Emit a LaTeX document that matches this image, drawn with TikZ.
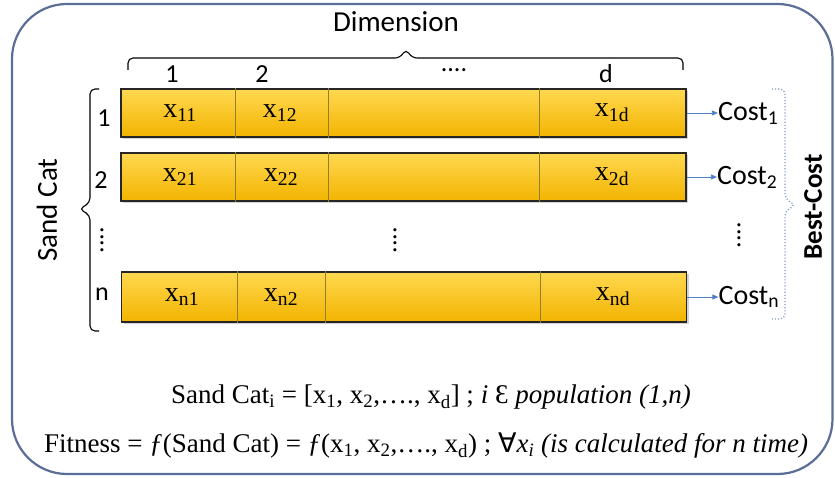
\documentclass[tikz,border=0pt]{standalone}
\usepackage{fontspec}
\setmainfont{Liberation Serif}
\setsansfont{Carlito}
\newfontfamily\symfont{DejaVu Sans}
\usepackage{xcolor}
\usetikzlibrary{arrows.meta,positioning,shadows,calc}
\definecolor{frameblue}{RGB}{90,110,152}
\definecolor{goldtop}{RGB}{255,216,80}
\definecolor{goldbot}{RGB}{242,180,0}
\definecolor{cellline}{RGB}{150,125,40}
\definecolor{arrowblue}{RGB}{80,125,200}
\definecolor{dotblue}{RGB}{130,152,192}
\newcommand{\fsz}[1]{\fontsize{#1}{#1}\selectfont}

\begin{document}
\begin{tikzpicture}[x=1pt,y=-1pt,
      font=\sffamily,
      frame/.style={draw=frameblue,line width=2.2pt,rounded corners=55pt},
      catrow/.style={draw=black!85,line width=1.8pt,top color=goldtop,bottom color=goldbot,
                     minimum width=565pt,minimum height=48pt,inner sep=0pt,
                     drop shadow={shadow xshift=2pt,shadow yshift=-2pt,opacity=0.35}},
      split/.style={draw=cellline,line width=0.5pt},
      cell/.style={font=\rmfamily\fsz{28}},
      lab/.style={font=\sffamily\fsz{26}},
      brc/.style={line width=1.1pt,rounded corners=5pt},
      cost/.style={font=\sffamily\fsz{28},inner sep=0pt},
      ar/.style={-{Triangle[length=6pt,width=5pt]},line width=0.8pt,color=arrowblue},
      formula/.style={font=\rmfamily\fsz{27}},
    ]
    \useasboundingbox (0,0) rectangle (835,478);
    \draw[frame] (12,4) rectangle (832.5,474);

    % header
    \node[font=\sffamily\fsz{29}] (dimension) at (396,22) {Dimension};
    \draw[brc] (128,70) -- (128,58) -- (400,58) -- (406,49) -- (412,58) -- (683,58) -- (683,70);
    \node[lab] (col1) at (172,74) {1};
    \node[lab] (col2) at (262,74) {2};
    \node[lab] (coldots) at (454,70) {....};
    \node[lab] (cold) at (606,74) {d};

    % sand cat rows
    \node[catrow] (row1) at (403.5,113) {};
    \node[catrow] (row2) at (403.5,177) {};
    \node[catrow,minimum height=50pt] (rown) at (404,297) {};
    \draw[split] (235,0 |- row1.north) -- (235,0 |- row1.south)
                 (328,0 |- row1.north) -- (328,0 |- row1.south)
                 (539,0 |- row1.north) -- (539,0 |- row1.south);
    \draw[split] (235,0 |- row2.north) -- (235,0 |- row2.south)
                 (328,0 |- row2.north) -- (328,0 |- row2.south)
                 (539,0 |- row2.north) -- (539,0 |- row2.south);
    \draw[split] (237,0 |- rown.north) -- (237,0 |- rown.south)
                 (325,0 |- rown.north) -- (325,0 |- rown.south)
                 (540,0 |- rown.north) -- (540,0 |- rown.south);

    \node[cell] (x11) at (180,113) {x\textsubscript{11}};
    \node[cell] (x12) at (280,113) {x\textsubscript{12}};
    \node[cell] (x1d) at (612,113) {x\textsubscript{1d}};
    \node[cell] (x21) at (180,177) {x\textsubscript{21}};
    \node[cell] (x22) at (281,177) {x\textsubscript{22}};
    \node[cell] (x2d) at (612,177) {x\textsubscript{2d}};
    \node[cell] (xn1) at (182,297) {x\textsubscript{n1}};
    \node[cell] (xn2) at (281,297) {x\textsubscript{n2}};
    \node[cell] (xnd) at (613,297) {x\textsubscript{nd}};

    % row labels
    \draw[brc] (99,89) -- (90,89) -- (90,203) -- (79,209) -- (90,215) -- (90,331) -- (99,331);
    \node[rotate=90,font=\sffamily\fsz{29}] (sandcat) at (47,210) {Sand Cat};
    \node[lab] (lab1) at (104,118) {1};
    \node[lab] (lab2) at (101,180) {2};
    \node[lab,rotate=90] (labdots) at (102,240) {....};
    \node[lab] (labn) at (102,294) {n};
    \node[lab,rotate=90] (middots) at (395,240) {....};

    % costs
    \node[cost,right=31pt of row1,anchor=west] (cost1) {Cost\textsubscript{1}};
    \node[cost,right=30pt of row2,anchor=west] (cost2) {Cost\textsubscript{2}};
    \node[cost,right=31pt of rown,anchor=west] (costn) {Cost\textsubscript{n}};
    \node[lab,rotate=90] (costdots) at (739,235) {....};
    \draw[ar] (row1.east) -- (cost1.west);
    \draw[ar] (row2.east) -- (cost2.west);
    \draw[ar] (rown.east) -- (costn.west);
    \draw[brc,dotted,draw=dotblue,line width=1.3pt]
      (772,89) -- (785,89) -- (785,199) -- (796,205) -- (785,211) -- (785,319) -- (772,319);
    \node[rotate=90,font=\sffamily\bfseries\fsz{27}] (bestcost) at (813,207) {Best-Cost};

    % formulas
    \node[formula] (member) at (431,397)
      {Sand Cat\textsubscript{i} = [x\textsubscript{1}, x\textsubscript{2},…., x\textsubscript{d}] ; \textit{i} Ɛ \textit{population (1,n)}};
    \node[formula] (fitness) at (426,446)
      {Fitness = \textit{ƒ}(Sand Cat) = \textit{ƒ}(x\textsubscript{1}, x\textsubscript{2},…., x\textsubscript{d}) ; {\symfont ∀}\textit{x\textsubscript{i}} \textit{(is calculated for n time)}};
  \end{tikzpicture}
\end{document}
